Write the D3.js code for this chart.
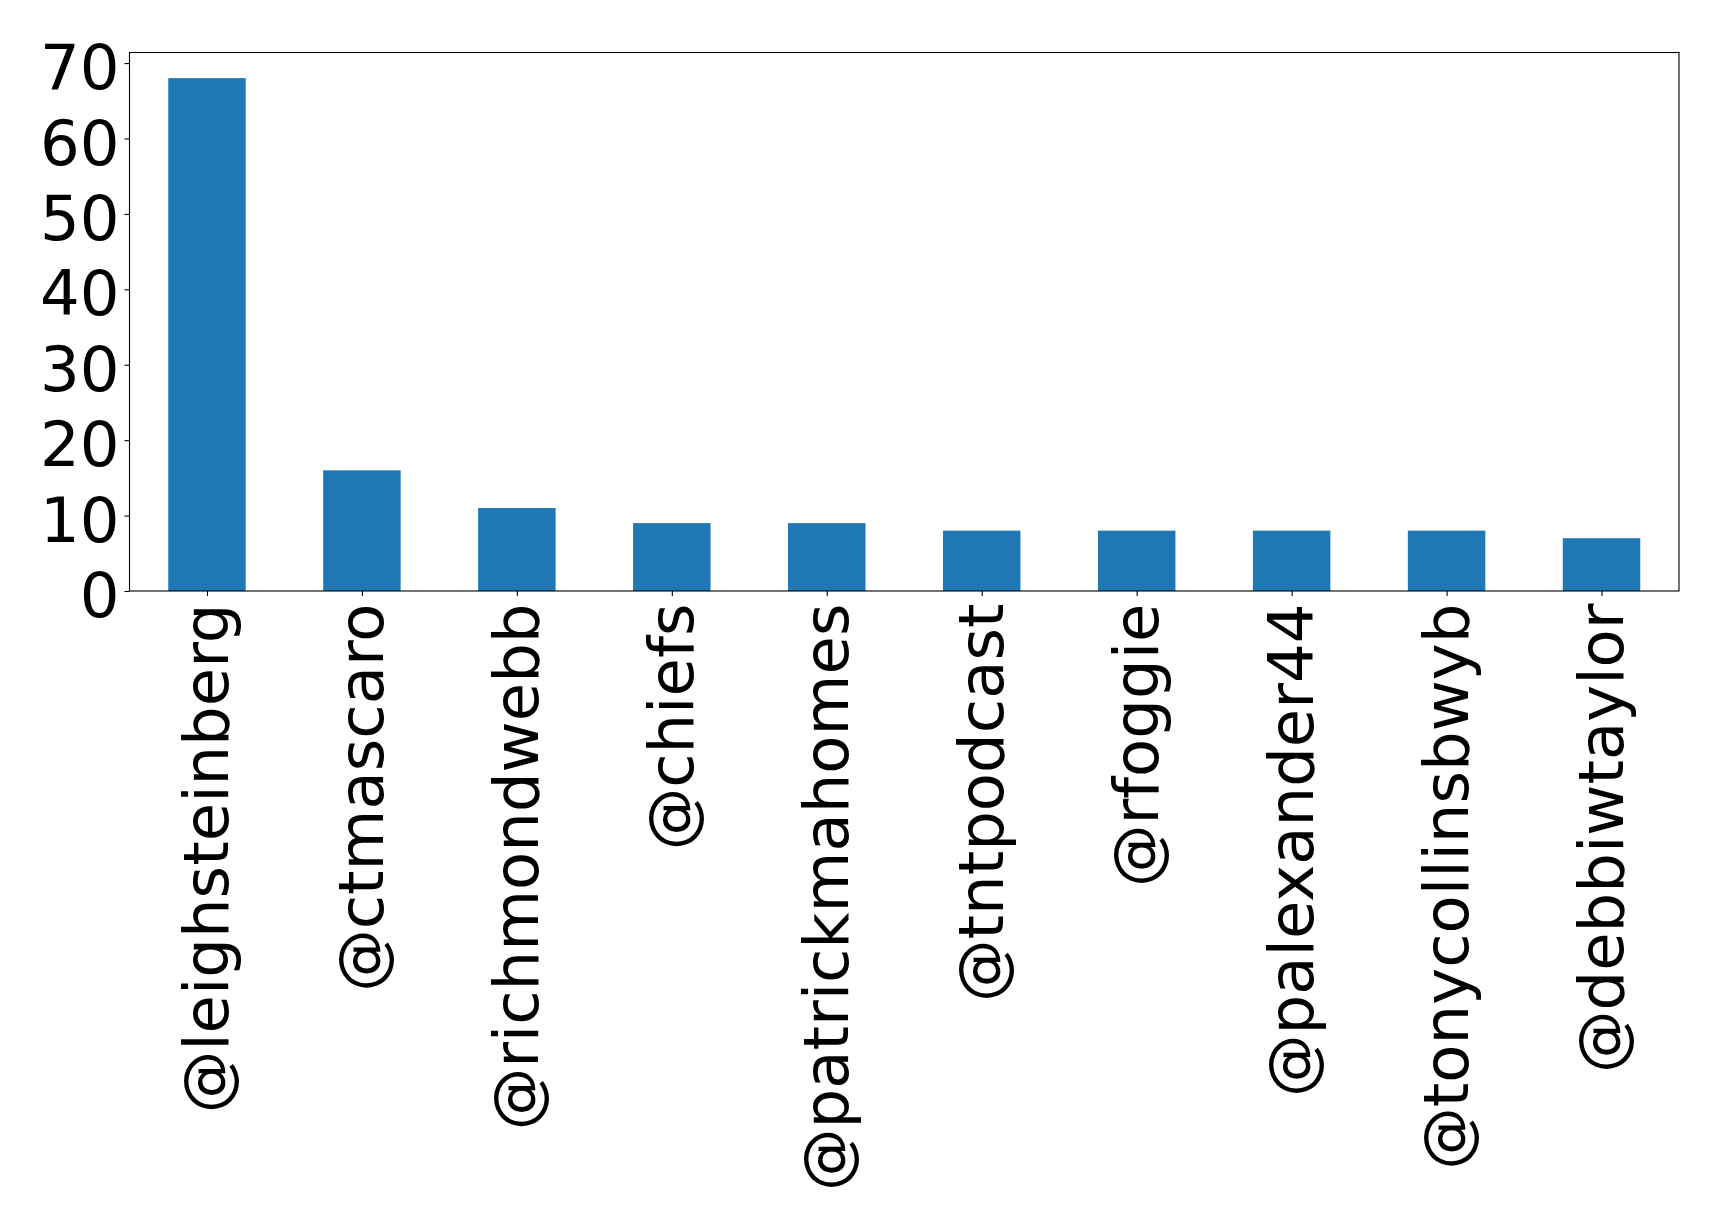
<!DOCTYPE html>
<html>
<head>
<meta charset="utf-8">
<script src="https://cdn.jsdelivr.net/npm/d3@7"></script>
<style>
  html, body { margin: 0; padding: 0; background: #fff; }
  svg { display: block; font-family: "DejaVu Sans", sans-serif; }
</style>
</head>
<body>
<svg id="chart" width="1719" height="1228"></svg>
<script>
const categories = ["@leighsteinberg", "@ctmascaro", "@richmondwebb", "@chiefs", "@patrickmahomes",
  "@tntpodcast", "@rfoggie", "@palexander44", "@tonycollinsbwyb", "@debbiwtaylor"];
const values = [68, 16, 11, 9, 9, 8, 8, 8, 8, 7];
const yTicks = [0, 10, 20, 30, 40, 50, 60, 70];

const W = 1719, H = 1228;
const m = { left: 129.5, right: 1679, top: 52.5, bottom: 591 };
const svg = d3.select("#chart");
const FS = 62.5;

const x = d3.scaleLinear().domain([-0.5, categories.length - 0.5]).range([m.left, m.right]);
const y = d3.scaleLinear().domain([0, d3.max(values) * 1.05]).range([m.bottom, m.top]);
const bw = x(0.25) - x(-0.25);

svg.append("g").selectAll("rect").data(values).join("rect")
  .attr("x", (d, i) => x(i) - bw / 2)
  .attr("width", bw)
  .attr("y", d => y(d))
  .attr("height", d => y(0) - y(d))
  .attr("fill", "#1f77b4");

const yAxis = d3.axisLeft(y).tickValues(yTicks).tickSize(5).tickPadding(5).tickFormat(d3.format("d"));
const gy = svg.append("g").attr("transform", `translate(${m.left},0)`).call(yAxis);
gy.select(".domain").remove();
gy.selectAll(".tick line").attr("stroke", "#000").attr("stroke-width", 1.1);
gy.selectAll(".tick text").attr("font-size", FS).attr("fill", "#000")
  .attr("font-family", "DejaVu Sans").attr("dy", "0.41em");

const xAxis = d3.axisBottom(x).tickValues(d3.range(categories.length)).tickSize(5).tickFormat(i => categories[i]);
const gx = svg.append("g").attr("transform", `translate(0,${m.bottom})`).call(xAxis);
gx.select(".domain").remove();
gx.selectAll(".tick line").attr("stroke", "#000").attr("stroke-width", 1.1);
gx.selectAll(".tick text")
  .attr("font-size", FS).attr("fill", "#000").attr("font-family", "DejaVu Sans")
  .attr("text-anchor", "end")
  .attr("y", 0).attr("dy", "0.33em")
  .attr("transform", "translate(0,12.5) rotate(-90)");

svg.append("rect")
  .attr("x", m.left).attr("y", m.top)
  .attr("width", m.right - m.left).attr("height", m.bottom - m.top)
  .attr("fill", "none").attr("stroke", "#000").attr("stroke-width", 1.1);
</script>
</body>
</html>
